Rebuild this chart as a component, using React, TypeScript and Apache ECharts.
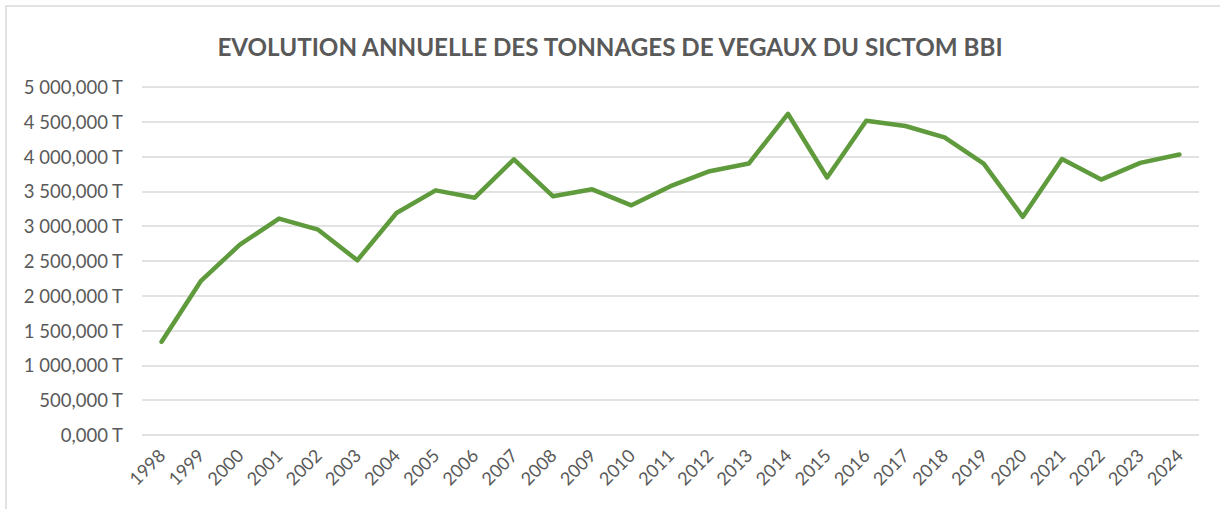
import React, { useEffect, useRef } from "react";
import * as echarts from "echarts";

const TITLE = "EVOLUTION ANNUELLE DES TONNAGES DE VEGAUX DU SICTOM BBI";

const years = [
  "1998", "1999", "2000", "2001", "2002", "2003", "2004", "2005", "2006",
  "2007", "2008", "2009", "2010", "2011", "2012", "2013", "2014", "2015",
  "2016", "2017", "2018", "2019", "2020", "2021", "2022", "2023", "2024",
];

const tonnages = [
  1340, 2210, 2735, 3110, 2950, 2510, 3190, 3515, 3410,
  3960, 3430, 3530, 3300, 3575, 3790, 3900, 4615, 3700,
  4515, 4440, 4275, 3900, 3135, 3965, 3670, 3910, 4030,
];

const yMin = 0;
const yMax = 5000;
const yStep = 500;

function formatTonnes(v: number): string {
  const intPart = Math.floor(v).toString().replace(/\B(?=(\d{3})+(?!\d))/g, " ");
  return intPart + ",000 T";
}

export default function App() {
  const ref = useRef<HTMLDivElement>(null);
  useEffect(() => {
    document.body.style.margin = "0";
    if (!ref.current) return;
    const chart = echarts.init(ref.current, undefined, { renderer: "svg" });
    chart.setOption({
      animation: false,
      backgroundColor: "#ffffff",
      title: {
        text: TITLE,
        left: "center",
        top: 29,
        textStyle: {
          fontFamily: "Lato",
          fontWeight: "bold",
          fontSize: 24.2,
          color: "#595959",
        },
      },
      graphic: [
        {
          type: "rect",
          shape: { x: 6, y: 6, width: 1300, height: 600 },
          style: { fill: "none", stroke: "#d9d9d9", lineWidth: 1.5 },
          silent: true,
        },
      ],
      grid: { left: 142, right: 21, top: 87, bottom: 74, containLabel: false },
      xAxis: {
        type: "category",
        data: years,
        boundaryGap: true,
        axisLine: { show: false },
        axisTick: { show: false },
        axisLabel: {
          rotate: 45,
          interval: 0,
          margin: 17,
          fontFamily: "Lato",
          fontSize: 18,
          color: "#595959",
        },
      },
      yAxis: {
        type: "value",
        min: yMin,
        max: yMax,
        interval: yStep,
        axisLine: { show: false },
        axisTick: { show: false },
        splitLine: { lineStyle: { color: "#d9d9d9", width: 1.5 } },
        axisLabel: {
          formatter: (v: number) => formatTonnes(v),
          margin: 19,
          fontFamily: "Lato",
          fontSize: 18.5,
          color: "#595959",
        },
      },
      series: [
        {
          type: "line",
          data: tonnages,
          symbol: "none",
          lineStyle: { color: "#5f9b3c", width: 4.5, join: "round", cap: "round" },
        },
      ],
    });
    return () => chart.dispose();
  }, []);
  return <div ref={ref} style={{ width: 1220, height: 509 }} />;
}
